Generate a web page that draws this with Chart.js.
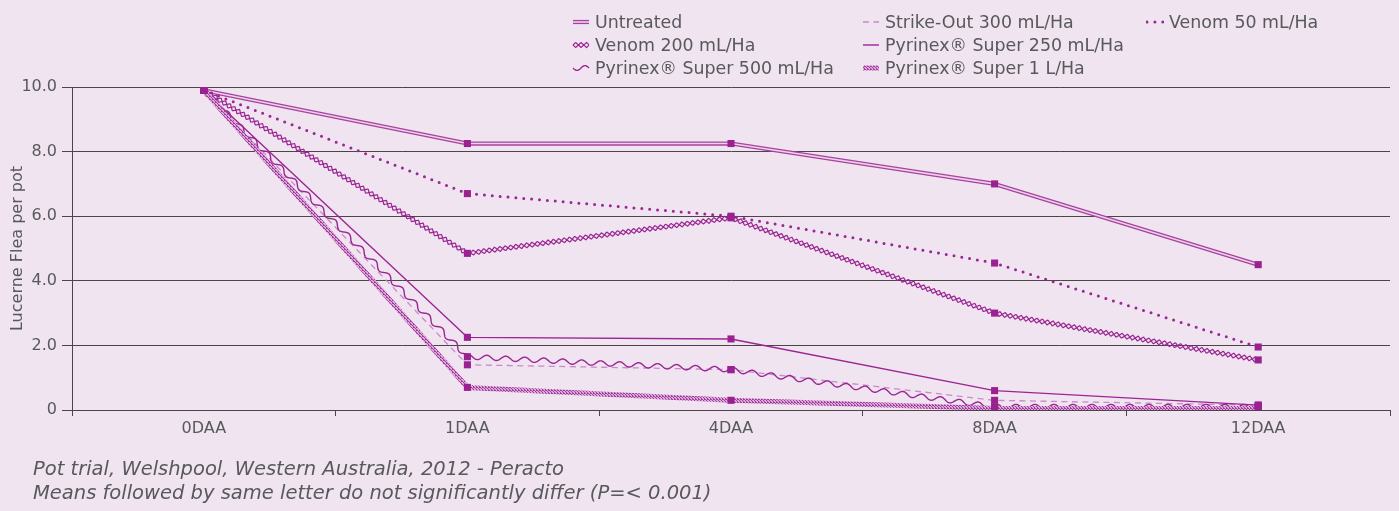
<!DOCTYPE html>
<html>
<head>
<meta charset="utf-8">
<script src="https://cdn.jsdelivr.net/npm/chart.js@4/dist/chart.umd.min.js"></script>
<style>
  html, body { margin: 0; padding: 0; background: #efe4f0; }
  #wrap { position: relative; width: 1399px; height: 511px; overflow: hidden; }
  #chartJSContainer { position: absolute; left: 0; top: 0; }
  .leg { position: absolute; font-family: 'DejaVu Sans', sans-serif; font-size: 17.4px; color: #58595b; white-space: nowrap; line-height: 20px; }
  .leg canvas { vertical-align: middle; margin-right: 5px; position: relative; top: -1px; }
  #caption { position: absolute; left: 33px; top: 457px; font-family: 'DejaVu Sans', sans-serif; font-style: italic; font-size: 19.5px; line-height: 24px; color: #58595b; }
</style>
</head>
<body>
<div id="wrap">
  <canvas id="chartJSContainer" width="1399" height="511"></canvas>
  <div id="legend"></div>
  <div id="caption">Pot trial, Welshpool, Western Australia, 2012 - Peracto<br>Means followed by same letter do not significantly differ (P=&lt; 0.001)</div>
</div>
<script>
var labels = ['0DAA', '1DAA', '4DAA', '8DAA', '12DAA'];

var untreated   = [9.9, 8.25, 8.25, 7.0, 4.5];
var strikeOut   = [9.9, 1.4, 1.25, 0.3, 0.15];
var venom50     = [9.9, 6.7, 6.0, 4.55, 1.95];
var venom200    = [9.9, 4.85, 5.95, 3.0, 1.55];
var pyrinex250  = [9.9, 2.25, 2.2, 0.6, 0.15];
var pyrinex500  = [9.9, 1.65, 1.25, 0.1, 0.1];
var pyrinex1L   = [9.9, 0.7, 0.3, 0.05, 0.05];

var seriesNames = ['Untreated', 'Strike-Out 300 mL/Ha', 'Venom 50 mL/Ha', 'Venom 200 mL/Ha',
                   'Pyrinex\u00ae Super 250 mL/Ha', 'Pyrinex\u00ae Super 500 mL/Ha', 'Pyrinex\u00ae Super 1 L/Ha'];
var seriesData = [untreated, strikeOut, venom50, venom200, pyrinex250, pyrinex500, pyrinex1L];
var seriesStyle = ['double', 'dash', 'dots', 'diamonds', 'solid', 'wave', 'hatch'];

var MAG = '#9b2593';
var LIGHT = '#c98ac7';

// sample a polyline at small steps, keeping the normal for offset patterns
function samplePath(pts, step) {
    var out = [];
    var dist = 0;
    for (var i = 0; i < pts.length - 1; i++) {
        var a = pts[i], b = pts[i + 1];
        var dx = b.x - a.x, dy = b.y - a.y, len = Math.hypot(dx, dy);
        if (len === 0) continue;
        var ux = dx / len, uy = dy / len;
        for (var s = 0; s < len; s += step)
            out.push({x: a.x + ux * s, y: a.y + uy * s, nx: -uy, ny: ux, d: dist + s});
        dist += len;
    }
    var l = pts[pts.length - 1];
    var p = out.length ? out[out.length - 1] : {nx: 0, ny: 1};
    out.push({x: l.x, y: l.y, nx: p.nx, ny: p.ny, d: dist});
    return out;
}

function strokeOffset(ctx, samples, fn) {
    ctx.beginPath();
    for (var i = 0; i < samples.length; i++) {
        var s = samples[i], o = fn(s.d);
        var x = s.x + s.nx * o, y = s.y + s.ny * o;
        if (i === 0) ctx.moveTo(x, y); else ctx.lineTo(x, y);
    }
    ctx.stroke();
}

function strokePoly(ctx, pts) {
    ctx.beginPath();
    pts.forEach(function (p, i) { if (i === 0) ctx.moveTo(p.x, p.y); else ctx.lineTo(p.x, p.y); });
    ctx.stroke();
}

var hatchPattern = null;
function getHatch(ctx) {
    if (hatchPattern) return hatchPattern;
    var c = document.createElement('canvas');
    c.width = 3; c.height = 3;
    var g = c.getContext('2d');
    g.fillStyle = '#d9a9d7';
    g.fillRect(0, 0, 3, 3);
    g.fillStyle = '#a53c9f';
    g.fillRect(0, 0, 1, 1); g.fillRect(1, 1, 1, 1); g.fillRect(2, 2, 1, 1);
    g.fillRect(2, 0, 1, 1);
    hatchPattern = ctx.createPattern(c, 'repeat');
    return hatchPattern;
}

function drawStyled(ctx, pts, style, waveLen) {
    ctx.save();
    ctx.lineJoin = 'round';
    ctx.setLineDash([]);
    if (style === 'double') {
        ctx.strokeStyle = '#a8429f'; ctx.lineWidth = 4.2; strokePoly(ctx, pts);
        ctx.strokeStyle = '#ecd2ea'; ctx.lineWidth = 1.6; strokePoly(ctx, pts);
    } else if (style === 'dash') {
        ctx.strokeStyle = LIGHT; ctx.lineWidth = 1.3; ctx.setLineDash([6, 4.5]); strokePoly(ctx, pts);
    } else if (style === 'dots') {
        ctx.strokeStyle = MAG; ctx.lineWidth = 3; ctx.lineCap = 'round'; ctx.setLineDash([0, 7.9]); strokePoly(ctx, pts);
    } else if (style === 'diamonds') {
        var sm = samplePath(pts, 0.5);
        var P = 5.4, A = 2.5;
        var f = function (d) { var t = (d / P) % 1; return A * (1 - Math.abs(2 * t - 1)); };
        ctx.strokeStyle = MAG; ctx.lineWidth = 1.2;
        strokeOffset(ctx, sm, f);
        strokeOffset(ctx, sm, function (d) { return -f(d); });
    } else if (style === 'solid') {
        ctx.strokeStyle = MAG; ctx.lineWidth = 1.4; strokePoly(ctx, pts);
    } else if (style === 'wave') {
        var sw = samplePath(pts, 0.5);
        var wl = waveLen || 19;
        ctx.strokeStyle = MAG; ctx.lineWidth = 1.4;
        strokeOffset(ctx, sw, function (d) { return 2.4 * Math.sin(2 * Math.PI * d / wl); });
    } else if (style === 'hatch') {
        ctx.strokeStyle = getHatch(ctx); ctx.lineWidth = 5; ctx.lineCap = 'butt'; strokePoly(ctx, pts);
    }
    ctx.restore();
}

// draws the patterned lines underneath the square markers
var patternLines = {
    id: 'patternLines',
    beforeDatasetsDraw: function (chart) {
        var ctx = chart.ctx;
        ctx.save();
        ctx.beginPath();
        ctx.rect(chart.chartArea.left, 0, chart.chartArea.right - chart.chartArea.left, chart.chartArea.bottom);
        ctx.clip();
        chart.data.datasets.forEach(function (ds, i) {
            var meta = chart.getDatasetMeta(i);
            var pts = meta.data.map(function (p) { return {x: p.x, y: p.y}; });
            drawStyled(ctx, pts, ds.lineStyle);
        });
        ctx.restore();
    }
};

var datasets = seriesNames.map(function (name, i) {
    return {
        label: name,
        data: seriesData[i],
        lineStyle: seriesStyle[i],
        showLine: false,
        pointStyle: 'rect',
        pointRadius: 5,
        pointHoverRadius: 5,
        pointBorderWidth: 0,
        pointBackgroundColor: '#9a2290',
        borderColor: '#9a2290'
    };
});

// html legend in three columns
var legCols = [572, 862, 1146];
var legRows = [12, 35, 58];
var legOrder = [[0, 0, 0], [1, 1, 0], [2, 2, 0], [3, 0, 1], [4, 1, 1], [5, 0, 2], [6, 1, 2]];
var legendDiv = document.getElementById('legend');
legOrder.forEach(function (o) {
    var idx = o[0];
    var item = document.createElement('div');
    item.className = 'leg';
    item.style.left = legCols[o[1]] + 'px';
    item.style.top = legRows[o[2]] + 'px';
    var sw = document.createElement('canvas');
    sw.width = 18; sw.height = 10;
    drawStyled(sw.getContext('2d'), [{x: 1, y: 5}, {x: 17, y: 5}], seriesStyle[idx], 16);
    item.appendChild(sw);
    item.appendChild(document.createTextNode(seriesNames[idx]));
    legendDiv.appendChild(item);
});

Chart.defaults.font.family = "'DejaVu Sans', sans-serif";
Chart.defaults.color = '#58595b';

var options = {
    type: 'line',
    data: { labels: labels, datasets: datasets },
    options: {
        responsive: false,
        animation: false,
        layout: { padding: { top: 87, right: 9, bottom: 70, left: 0 } },
        plugins: {
            legend: { display: false },
            tooltip: { enabled: false }
        },
        scales: {
            x: {
                offset: true,
                grid: { display: true, offset: true, drawOnChartArea: false, drawTicks: true, tickLength: 6, color: '#4d4448' },
                border: { display: true, color: '#4d4448', width: 1 },
                ticks: { font: { size: 16 }, color: '#58595b', padding: 3 },
                afterFit: function (s) { s.height = 31; }
            },
            y: {
                min: 0,
                max: 10,
                grid: { color: '#4d4448', lineWidth: 1, tickLength: 10 },
                border: { display: true, color: '#4d4448', width: 1 },
                ticks: {
                    stepSize: 2,
                    font: { size: 16 },
                    color: '#58595b',
                    padding: 5,
                    callback: function (v) { return v === 0 ? '0' : v.toFixed(1); }
                },
                title: { display: true, text: 'Lucerne Flea per pot', font: { size: 16 }, color: '#58595b', padding: { top: 8, bottom: 0 } },
                afterFit: function (s) { s.width = 72; }
            }
        }
    },
    plugins: [patternLines]
};

var ctx = document.getElementById('chartJSContainer').getContext('2d');
new Chart(ctx, options);
</script>
</body>
</html>
